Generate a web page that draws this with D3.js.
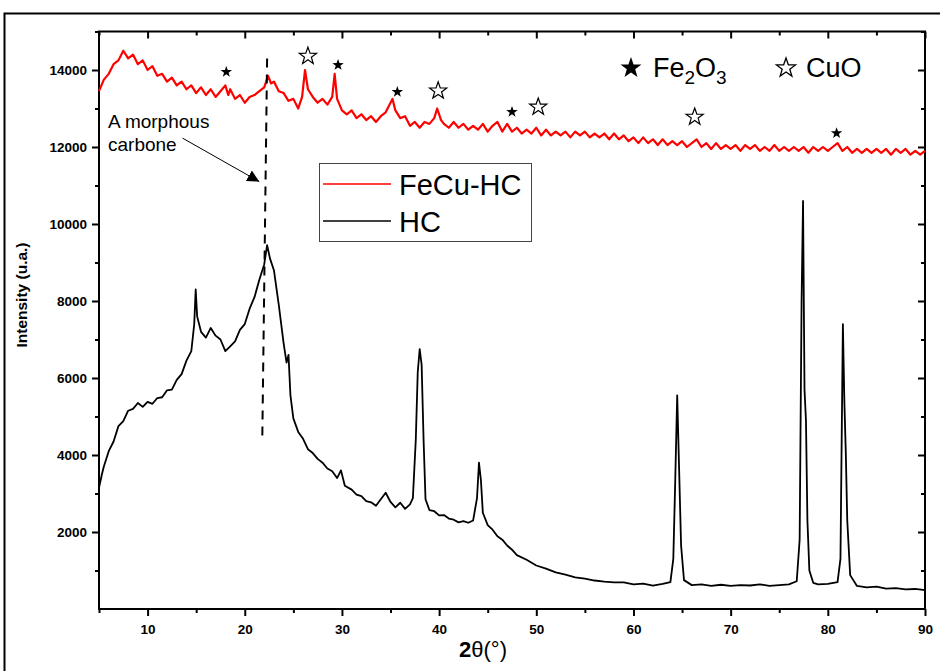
<!DOCTYPE html>
<html>
<head>
<meta charset="utf-8">
<script src="https://cdn.jsdelivr.net/npm/d3@7"></script>
<style>
  body { margin: 0; background: #fff; }
  svg { font-family: "Liberation Sans", Arial, sans-serif; }
</style>
</head>
<body>
<svg id="chart" width="940" height="671"></svg>
<script>
// XRD patterns, 2theta (deg) vs intensity (u.a.)
var fecuHC = [[5,13450],[5.5,13750],[6,13900],[6.5,14150],[7,14250],[7.5,14500],[8,14300],[8.5,14400],[9,14150],[9.5,14250],
  [10,14000],[10.5,14100],[11,13850],[11.5,13900],[12,13700],[12.5,13800],[13,13600],[13.5,13700],[14,13500],[14.5,13600],
  [15,13400],[15.5,13550],[16,13350],[16.5,13500],[17,13300],[17.5,13450],[18,13600],[18.3,13350],[18.5,13500],[19,13250],
  [19.5,13350],[20,13150],[20.5,13300],[21,13350],[21.5,13450],[22,13550],[22.4,13850],[22.7,13650],[23,13700],[23.5,13450],
  [24,13400],[24.5,13200],[25,13250],[25.5,13000],[25.9,13300],[26.2,14000],[26.5,13500],[27,13300],[27.5,13150],[28,13250],
  [28.5,13100],[29,13300],[29.25,13900],[29.5,13250],[30,12950],[30.5,12850],[31,12950],[31.5,12750],[32,12850],[32.5,12700],
  [33,12800],[33.5,12650],[34,12800],[34.5,12900],[35.2,13250],[35.5,12950],[36,12750],[36.5,12800],[37,12550],[37.5,12650],
  [38,12500],[38.5,12650],[39,12600],[39.5,12750],[39.8,13000],[40.2,12700],[40.5,12600],[41,12500],[41.5,12650],[42,12500],
  [42.5,12600],[43,12450],[43.5,12550],[44,12450],[44.5,12600],[45,12400],[45.5,12550],[46,12650],[46.5,12400],[47,12600],
  [47.5,12400],[48,12500],[48.5,12350],[49,12450],[49.5,12350],[50,12500],[50.5,12300],[51,12450],[51.5,12300],[52,12400],
  [52.5,12300],[53,12400],[53.5,12250],[54,12400],[54.5,12300],[55,12400],[55.5,12250],[56,12350],[56.5,12250],[57,12350],
  [57.5,12200],[58,12350],[58.5,12200],[59,12300],[59.5,12150],[60,12250],[60.5,12100],[61,12250],[61.5,12100],[62,12200],
  [62.5,12050],[63,12200],[63.5,12050],[64,12150],[64.5,12050],[65,12150],[65.5,12000],[66,12100],[66.5,12200],[67,12000],
  [67.5,12100],[68,11950],[68.5,12100],[69,11950],[69.5,12050],[70,11950],[70.5,12050],[71,11900],[71.5,12050],[72,11950],
  [72.5,12050],[73,11900],[73.5,12000],[74,11900],[74.5,12050],[75,11900],[75.5,12000],[76,11900],[76.5,12000],[77,11900],
  [77.5,12000],[78,11850],[78.5,12000],[79,11900],[79.5,12000],[80,11900],[80.5,12000],[81,12100],[81.5,11900],[82,12000],
  [82.5,11850],[83,11950],[83.5,11850],[84,11950],[84.5,11850],[85,11950],[85.5,11850],[86,11950],[86.5,11800],[87,11950],
  [87.5,11850],[88,11950],[88.5,11800],[89,11900],[89.5,11800],[90,11900]];

var hc = [[5,3150],[5.3,3500],[5.5,3700],[6,4100],[6.5,4350],[7,4750],[7.5,4880],[8,5150],[8.5,5200],[9,5350],
  [9.5,5250],[10,5380],[10.5,5330],[11,5480],[11.5,5500],[12,5680],[12.5,5700],[13,5950],[13.5,6100],[14,6450],
  [14.5,6700],[14.8,7400],[14.95,8300],[15.1,7600],[15.5,7200],[16,7050],[16.5,7300],[17,7100],[17.5,7000],[18,6700],
  [18.5,6820],[19,6950],[19.5,7250],[20,7400],[20.5,7800],[21,8100],[21.5,8550],[22,8950],[22.3,9450],[22.6,9100],
  [23,8800],[23.5,7900],[24,6900],[24.3,6400],[24.5,6600],[24.7,5550],[25,4950],[25.5,4600],[26,4420],[26.5,4150],
  [27,4050],[27.5,3900],[28,3800],[28.5,3650],[29,3580],[29.5,3400],[29.9,3600],[30.3,3200],[31,3100],[31.5,2970],
  [32,2930],[32.5,2800],[33,2770],[33.5,2680],[34,2850],[34.5,3020],[35,2780],[35.5,2640],[36,2760],[36.5,2600],
  [37,2720],[37.3,2880],[37.6,4400],[37.8,6150],[38,6750],[38.2,6350],[38.4,4400],[38.6,2850],[39,2570],[39.5,2540],
  [40,2430],[40.5,2440],[41,2350],[41.5,2320],[42,2250],[42.5,2280],[43,2240],[43.5,2300],[43.9,2880],[44.1,3800],
  [44.3,3350],[44.5,2500],[45,2180],[45.5,2060],[46,1890],[46.5,1800],[47,1650],[47.5,1540],[48,1400],[49,1280],
  [50,1130],[51,1050],[52,950],[53,890],[54,820],[55,790],[56,740],[57,710],[58,690],[59,690],
  [60,640],[61,660],[62,610],[63,650],[63.8,700],[64.1,1300],[64.3,3350],[64.5,5550],[64.7,3600],[64.9,1650],
  [65.2,750],[66,620],[67,640],[68,600],[69,630],[70,600],[71,620],[72,610],[73,640],[74,600],
  [75,620],[76,640],[76.8,720],[77.1,1800],[77.3,8000],[77.45,10600],[77.6,5700],[77.75,4900],[77.9,2300],[78.1,1000],
  [78.5,680],[79,640],[80,650],[81,700],[81.3,1300],[81.55,7400],[81.7,5400],[81.85,4050],[82,2300],[82.3,880],
  [83,600],[84,560],[85,580],[86,530],[87,540],[88,510],[89,520],[90,490]];

var fe2o3Marks = [[18.1,13950],[29.6,14130],[35.7,13430],[47.5,12910],[80.9,12360]];
var cuoMarks = [[26.5,14360],[39.9,13460],[50.2,13040],[66.3,12780]];

var xTicks = [10,20,30,40,50,60,70,80,90];
var xMinor = [5,15,25,35,45,55,65,75,85];
var yTicks = [2000,4000,6000,8000,10000,12000,14000];
var yMinor = [1000,3000,5000,7000,9000,11000,13000,15000];

var seriesNames = ['FeCu-HC','HC'];
var seriesColors = ['#ff0000','#000000'];

var svg = d3.select('#chart');
var plotLeft = 99, plotRight = 925, plotTop = 31.5, plotBottom = 609;

var x = d3.scaleLinear().domain([5,90]).range([plotLeft,plotRight]);
var y = d3.scaleLinear().domain([0,15000]).range([plotBottom,plotTop]);

// outer frame
svg.append('rect')
  .attr('x',4.5).attr('y',13.5).attr('width',950).attr('height',680)
  .attr('fill','none').attr('stroke','#000').attr('stroke-width',2);

function styleAxis(g){
  g.attr('font-family',null).attr('font-size',null);
  g.select('.domain').remove();
  g.selectAll('line').attr('stroke','#000').attr('stroke-width',2);
  g.selectAll('text').attr('font-size',13.5).attr('font-weight','bold').attr('fill','#000');
}

// bottom axis
svg.append('g').attr('transform','translate(0,'+plotBottom+')')
  .call(d3.axisBottom(x).tickValues(xTicks).tickSize(7).tickPadding(8).tickFormat(d3.format('d')))
  .call(styleAxis);
svg.append('g').attr('transform','translate(0,'+plotBottom+')')
  .call(d3.axisBottom(x).tickValues(xMinor).tickSize(4).tickFormat(''))
  .call(styleAxis);
// top axis (inward)
svg.append('g').attr('transform','translate(0,'+plotTop+')')
  .call(d3.axisBottom(x).tickValues(xTicks).tickSize(7).tickFormat(''))
  .call(styleAxis);
svg.append('g').attr('transform','translate(0,'+plotTop+')')
  .call(d3.axisBottom(x).tickValues(xMinor).tickSize(4).tickFormat(''))
  .call(styleAxis);
// left axis
svg.append('g').attr('transform','translate('+plotLeft+',0)')
  .call(d3.axisLeft(y).tickValues(yTicks).tickSize(7).tickPadding(5).tickFormat(d3.format('d')))
  .call(styleAxis);
svg.append('g').attr('transform','translate('+plotLeft+',0)')
  .call(d3.axisLeft(y).tickValues(yMinor).tickSize(4).tickFormat(''))
  .call(styleAxis);
// right axis (inward)
svg.append('g').attr('transform','translate('+plotRight+',0)')
  .call(d3.axisLeft(y).tickValues(yTicks).tickSize(7).tickFormat(''))
  .call(styleAxis);
svg.append('g').attr('transform','translate('+plotRight+',0)')
  .call(d3.axisLeft(y).tickValues(yMinor).tickSize(4).tickFormat(''))
  .call(styleAxis);

// plot box
svg.append('rect')
  .attr('x',plotLeft).attr('y',plotTop).attr('width',plotRight-plotLeft).attr('height',plotBottom-plotTop)
  .attr('fill','none').attr('stroke','#000').attr('stroke-width',2);

// axis titles
svg.append('text')
  .attr('transform','translate(27,295) rotate(-90)')
  .attr('text-anchor','middle').attr('font-size',15.5).attr('font-weight','bold')
  .text('Intensity (u.a.)');

var xt = svg.append('text').attr('x',483).attr('y',657).attr('text-anchor','middle').attr('font-size',22);
xt.append('tspan').attr('font-weight','bold').text('2');
xt.append('tspan').text('θ(°)');

// curves
var line = d3.line().x(function(d){ return x(d[0]); }).y(function(d){ return y(d[1]); });
svg.append('path').datum(fecuHC)
  .attr('d',line).attr('fill','none').attr('stroke',seriesColors[0]).attr('stroke-width',2.2)
  .attr('stroke-linejoin','round');
svg.append('path').datum(hc)
  .attr('d',line).attr('fill','none').attr('stroke',seriesColors[1]).attr('stroke-width',1.8)
  .attr('stroke-linejoin','round');

// amorphous carbon guide
svg.append('line')
  .attr('x1',x(22.3)).attr('y1',y(14300)).attr('x2',x(21.8)).attr('y2',y(4350))
  .attr('stroke','#000').attr('stroke-width',2).attr('stroke-dasharray','9,7');

svg.append('defs').append('marker')
  .attr('id','arrow').attr('viewBox','0 0 10 10').attr('refX',10).attr('refY',5)
  .attr('markerWidth',12).attr('markerHeight',12).attr('markerUnits','userSpaceOnUse')
  .attr('orient','auto')
  .append('path').attr('d','M0,0 L10,5 L0,10 z').attr('fill','#000');

svg.append('line')
  .attr('x1',x(13.6)).attr('y1',y(12230)).attr('x2',x(21.5)).attr('y2',y(11100))
  .attr('stroke','#000').attr('stroke-width',1).attr('marker-end','url(#arrow)');

svg.append('text').attr('x',108).attr('y',128).attr('font-size',19).text('A morphous');
svg.append('text').attr('x',108).attr('y',151).attr('font-size',19).text('carbone');

// star markers
function starPath(R){
  var pts = [];
  for (var i = 0; i < 10; i++){
    var r = i % 2 === 0 ? R : R*0.4;
    var a = -Math.PI/2 + i*Math.PI/5;
    pts.push([r*Math.cos(a), r*Math.sin(a)]);
  }
  return 'M' + pts.map(function(p){ return p[0].toFixed(2)+','+p[1].toFixed(2); }).join('L') + 'Z';
}

svg.selectAll('.fe').data(fe2o3Marks).enter().append('path')
  .attr('class','fe')
  .attr('transform',function(d){ return 'translate('+x(d[0])+','+y(d[1])+')'; })
  .attr('d',starPath(6)).attr('fill','#000');
svg.selectAll('.cu').data(cuoMarks).enter().append('path')
  .attr('class','cu')
  .attr('transform',function(d){ return 'translate('+x(d[0])+','+y(d[1])+')'; })
  .attr('d',starPath(9)).attr('fill','#fff').attr('stroke','#000').attr('stroke-width',1.2);

// phase key
svg.append('path').attr('transform','translate(631,68)').attr('d',starPath(11)).attr('fill','#000');
var fe = svg.append('text').attr('x',653).attr('y',77).attr('font-size',27);
fe.append('tspan').text('Fe');
fe.append('tspan').attr('font-size',19).attr('dy',7).text('2');
fe.append('tspan').attr('dy',-7).text('O');
fe.append('tspan').attr('font-size',19).attr('dy',7).text('3');
svg.append('path').attr('transform','translate(786,68)').attr('d',starPath(10))
  .attr('fill','#fff').attr('stroke','#000').attr('stroke-width',1.3);
svg.append('text').attr('x',806).attr('y',77).attr('font-size',27).text('CuO');

// legend
var legend = svg.append('g');
legend.append('rect').attr('x',319.5).attr('y',163.5).attr('width',212).attr('height',78)
  .attr('fill','#fff').attr('stroke','#444').attr('stroke-width',1);
seriesNames.forEach(function(name,i){
  var ly = 184 + i*37;
  legend.append('line').attr('x1',323).attr('x2',391).attr('y1',ly).attr('y2',ly)
    .attr('stroke',seriesColors[i]).attr('stroke-width',1.5);
  legend.append('text').attr('x',399).attr('y',ly+11).attr('font-size',29).text(name);
});
</script>
</body>
</html>
